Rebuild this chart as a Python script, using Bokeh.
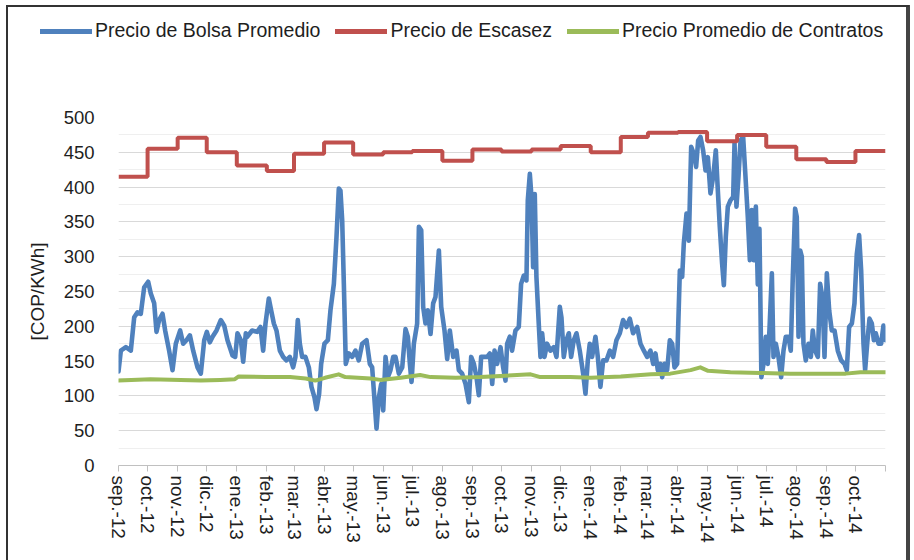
import pandas as pd
from bokeh.plotting import figure
from bokeh.layouts import column
from bokeh.models import Range1d, FixedTicker, SingleIntervalTicker, Legend, LegendItem
from bokeh.embed import file_html
from bokeh.resources import INLINE

# ---------------- data ----------------
start_date = "2012-09-01"
month_labels = ["sep.-12", "oct.-12", "nov.-12", "dic.-12", "ene.-13", "feb.-13",
                "mar.-13", "abr.-13", "may.-13", "jun.-13", "jul.-13", "ago.-13",
                "sep.-13", "oct.-13", "nov.-13", "dic.-13", "ene.-14", "feb.-14",
                "mar.-14", "abr.-14", "may.-14", "jun.-14", "jul.-14", "ago.-14",
                "sep.-14", "oct.-14"]

series_names = ["Precio de Bolsa Promedio", "Precio de Escasez", "Precio Promedio de Contratos"]
series_colors = ["#4f81bd", "#c0504d", "#9bbb59"]

# Precio de Escasez (monthly, COP/kWh)
escasez_val = [415, 455, 471, 450, 431, 423, 448, 464, 447, 450, 452, 438,
               454, 451, 454, 459, 450, 472, 478, 479, 466, 475, 458, 440, 436, 452]

# Precio de Bolsa Promedio (days since 2012-09-01, COP/kWh)
bolsa_day = [0, 2.4, 7.6, 12.7, 16.2, 19.6, 23.0, 26.5, 30.6, 33.3, 36.8, 39.2, 41.9, 45.4,
             48.1, 52.2, 55.7, 59.1, 63.6, 66.7, 70.1, 73.6, 77.0, 81.5, 84.9, 88.4, 91.1,
             94.2, 97.0, 101.1, 105.5, 109.0, 112.4, 117.6, 120.3, 122.7, 126.2, 128.6,
             131.3, 132.7, 137.8, 143.0, 146.4, 149.2, 151.6, 155.0, 157.4, 160.2, 162.9,
             166.4, 169.8, 173.2, 176.7, 180.1, 182.5, 184.9, 187.0, 189.4, 192.8, 196.3,
             199.0, 202.1, 204.2, 206.9, 209.0, 212.4, 215.9, 218.6, 222.1, 224.8, 227.2,
             228.9, 230.7, 232.4, 234.4, 237.5, 241.0, 244.4, 247.8, 251.3, 255.8, 259.2,
             261.6, 263.3, 266.1, 268.5, 270.9, 273.0, 275.4, 277.8, 280.5, 283.3, 285.7,
             289.1, 292.6, 296.0, 298.4, 300.5, 302.2, 304.6, 308.0, 309.8, 312.2, 314.2,
             316.6, 319.0, 321.8, 324.5, 326.9, 330.4, 332.8, 336.2, 339.0, 341.7, 345.2,
             348.6, 351.0, 354.4, 357.9, 361.3, 363.7, 366.5, 369.2, 371.6, 374.0, 377.5,
             380.2, 383.0, 385.4, 387.8, 390.5, 394.0, 396.7, 399.1, 400.8, 403.5, 405.9,
             409.4, 412.8, 415.2, 418.0, 420.7, 422.1, 424.2, 425.9, 427.6, 429.3, 431.0,
             433.4, 435.2, 436.9, 439.3, 442.0, 445.5, 448.9, 451.7, 455.1, 456.8, 459.2,
             462.0, 464.4, 466.8, 469.5, 472.3, 475.7, 479.2, 481.6, 484.0, 486.0, 488.4,
             491.9, 494.3, 497.0, 499.8, 503.2, 506.7, 510.1, 513.5, 517.0, 520.4, 523.9,
             527.3, 530.7, 534.9, 538.3, 541.8, 545.2, 548.6, 551.4, 553.8, 556.2, 558.9,
             560.7, 563.1, 565.8, 568.6, 571.0, 573.4, 576.1, 578.9, 581.3, 583.0, 585.8,
             588.2, 590.6, 593.3, 595.7, 597.8, 600.2, 602.9, 605.4, 607.8, 610.5, 613.3,
             616.0, 618.1, 620.1, 622.5, 624.3, 626.3, 628.4, 631.1, 633.9, 635.3, 637.3,
             639.4, 641.5, 644.2, 646.6, 649.0, 651.1, 653.1, 655.2, 657.3, 659.3, 661.0,
             663.0, 665.2, 667.6, 669.6, 671.3, 673.8, 675.5, 677.9, 680.6, 683.4, 685.8,
             688.2, 690.9, 693.3, 695.4, 697.8, 699.5, 701.3, 703.0, 704.7, 706.4, 708.8,
             711.6, 714.0, 716.0, 718.4, 721.2, 723.6, 726.0, 728.1, 730.5, 732.9, 735.6,
             738.4, 741.8, 745.3, 748.7, 751.1, 753.5, 756.3, 759.0, 761.4, 763.8, 765.9,
             768.3, 770.0, 772.1, 774.5, 776.9, 779.0, 781.0, 783.8, 786.5, 788.9, 791.0]
bolsa_val = [135, 165, 170, 165, 213, 220, 218, 256, 264, 247, 233, 192, 209, 218,
             194, 165, 137, 175, 194, 175, 180, 187, 165, 141, 132, 180, 192,
             177, 185, 194, 209, 201, 180, 158, 156, 190, 180, 149,
             190, 185, 194, 192, 199, 165, 204, 240, 223, 204, 194,
             165, 156, 151, 156, 141, 156, 209, 175, 156, 156, 141,
             113, 98, 81, 103, 146, 175, 180, 223, 261, 328, 398,
             395, 352, 261, 146, 161, 156, 165, 151, 175, 180, 146,
             141, 108, 53, 98, 117, 79, 156, 127, 137, 156, 156,
             132, 141, 196, 185, 146, 120, 175, 204, 343, 338, 228,
             204, 223, 189, 233, 242, 309, 228, 194, 153, 194, 156,
             165, 137, 132, 117, 91, 156, 146, 127, 101, 156, 156,
             156, 161, 117, 165, 146, 170, 141, 122, 175, 185, 165,
             194, 199, 261, 273, 266, 381, 419, 386, 285, 390, 271,
             204, 156, 190, 156, 175, 165, 170, 156, 228, 213, 156,
             180, 190, 156, 180, 190, 165, 132, 103, 151, 175, 156,
             185, 156, 113, 151, 151, 165, 156, 180, 190, 209, 199,
             211, 190, 199, 175, 165, 156, 165, 146, 161, 137, 146,
             127, 146, 137, 180, 175, 141, 146, 280, 271, 319, 362,
             323, 458, 448, 429, 467, 472, 453, 424, 443, 391, 415,
             453, 395, 343, 290, 259, 328, 372, 381, 386, 463, 372,
             415, 467, 472, 415, 357, 295, 367, 295, 372, 260, 340,
             127, 146, 185, 146, 194, 276, 156, 175, 156, 127, 165,
             185, 185, 165, 271, 369, 357, 185, 309, 300, 175, 151,
             175, 156, 194, 165, 156, 261, 242, 156, 276, 223, 194,
             194, 165, 151, 146, 137, 199, 204, 233, 304, 331, 280,
             175, 137, 175, 211, 204, 180, 190, 175, 175, 201, 180]

# Precio Promedio de Contratos (days since 2012-09-01, COP/kWh)
contratos_day = [0, 33, 64, 85, 105, 120, 124, 152, 177, 193, 203, 213, 227, 234, 260,
                 270, 291, 311, 322, 348, 373, 425, 435, 466, 487, 518, 549, 569, 590,
                 600, 608, 631, 662, 693, 724, 750, 765, 791]
contratos_val = [122, 124, 123, 122, 123, 124, 128, 127, 127, 125, 122, 126, 131, 127, 125,
                 123, 126, 130, 127, 126, 127, 131, 127, 127, 126, 128, 131, 132, 137,
                 141, 136, 134, 133, 132, 132, 132, 134, 134]

# ---------------- derived axis positions ----------------
month_starts = pd.date_range(start_date, periods=len(month_labels) + 1, freq="MS")
tick_days = [int((d - pd.Timestamp(start_date)).days) for d in month_starts]
end_day = tick_days[-1]

FONT = "Liberation Sans"
TXT = "#1e1e1e"
W = 914
LEG_H = 60
LW = 4

# ---------------- legend strip ----------------
pl = figure(width=W, height=LEG_H, x_range=Range1d(0, 1), y_range=Range1d(0, 1),
            output_backend="svg", toolbar_location=None,
            x_axis_type=None, y_axis_type=None,
            min_border_left=0, min_border_right=0, min_border_top=0, min_border_bottom=0,
            background_fill_alpha=0, border_fill_alpha=0, outline_line_color=None)
pl.frame_align = False
pl.grid.visible = False
leg_items = []
for name, col in zip(series_names, series_colors):
    r = pl.line(x=[float("nan")], y=[float("nan")], line_color=col,
                line_width=LW + 1, line_cap="round")
    leg_items.append(LegendItem(label=name, renderers=[r]))
legend = Legend(items=leg_items, location=(40, 18), orientation="horizontal",
                label_text_font=FONT, label_text_font_size="19.5px",
                label_text_color=TXT, glyph_width=52, glyph_height=20,
                label_standoff=3, spacing=15, padding=0, margin=0,
                border_line_color=None, background_fill_alpha=0)
pl.add_layout(legend)

# ---------------- main chart ----------------
p = figure(width=W, height=560 - LEG_H,
           x_range=Range1d(0, end_day), y_range=Range1d(0, 500),
           output_backend="svg", toolbar_location=None,
           min_border_left=118, min_border_right=29,
           min_border_top=117 - LEG_H, min_border_bottom=95,
           background_fill_color="white", border_fill_alpha=0,
           outline_line_color=None)
p.frame_align = False

p.line(bolsa_day, bolsa_val, line_color=series_colors[0], line_width=LW + 0.6,
       line_join="round", line_cap="round")
p.step(tick_days, escasez_val + [escasez_val[-1]], mode="after",
       line_color=series_colors[1], line_width=LW)
p.line(contratos_day, contratos_val, line_color=series_colors[2], line_width=LW,
       line_join="round", line_cap="round")

# y axis
p.yaxis.ticker = SingleIntervalTicker(interval=50, num_minor_ticks=2)
p.yaxis.axis_line_color = None
p.yaxis.major_tick_line_color = None
p.yaxis.minor_tick_line_color = None
p.yaxis.major_label_standoff = 18
p.yaxis.major_label_text_font = FONT
p.yaxis.major_label_text_font_size = "18.5px"
p.yaxis.major_label_text_color = TXT
p.yaxis.axis_label = "[COP/KWh]"
p.yaxis.axis_label_text_font = FONT
p.yaxis.axis_label_text_font_style = "normal"
p.yaxis.axis_label_text_font_size = "19px"
p.yaxis.axis_label_text_color = TXT
p.yaxis.axis_label_standoff = 13

p.ygrid.grid_line_color = "#d9d9d9"
p.ygrid.minor_grid_line_color = "#efefef"
p.xgrid.grid_line_color = None

# x axis
p.xaxis.ticker = FixedTicker(ticks=tick_days, minor_ticks=[])
overrides = {d: lab for d, lab in zip(tick_days, month_labels)}
overrides[end_day] = ""
p.xaxis.major_label_overrides = overrides
p.xaxis.major_label_orientation = "vertical"
p.xaxis.axis_line_color = "#c0c0c0"
p.xaxis.major_tick_line_color = "#c0c0c0"
p.xaxis.major_tick_out = 6
p.xaxis.major_tick_in = 0
p.xaxis.minor_tick_line_color = None
p.xaxis.major_label_standoff = 4
p.xaxis.major_label_text_font = FONT
p.xaxis.major_label_text_font_size = "19px"
p.xaxis.major_label_text_color = TXT

layout = column(pl, p, spacing=0)
# frame around the whole chart (left, top, right)
layout.styles = {
    "background": ("linear-gradient(#333,#333) 6px 5px / 2px 560px no-repeat, "
                   "linear-gradient(#333,#333) 6px 5px / 903px 2px no-repeat, "
                   "linear-gradient(#444,#444) 906px 5px / 4px 560px no-repeat, "
                   "white"),
}

open("out.html", "w").write(file_html(layout, INLINE))
